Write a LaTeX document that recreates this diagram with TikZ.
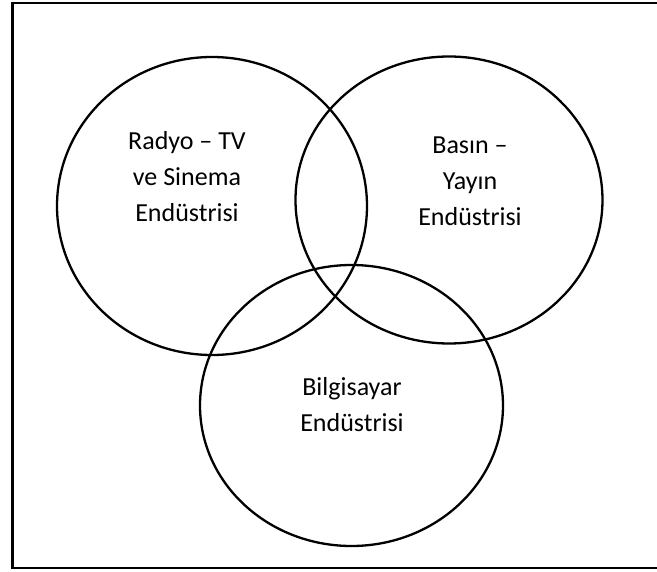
\documentclass[tikz,border=0pt]{standalone}
\usepackage{fontspec}
\setmainfont{Carlito}
\begin{document}
\begin{tikzpicture}[x=1pt,y=-1pt,
    set/.style={line width=2.3pt},
    label/.style={align=center,font=\fontsize{26}{36}\selectfont}]
    \useasboundingbox (0,0) rectangle (657,572);
    \draw[line width=2.5pt] (657,3) -- (12.5,3) -- (12.5,568) -- (657,568);
    \draw[set] (212,206) ellipse [x radius=155, y radius=149];
    \draw[set] (449,200) ellipse [x radius=153.5, y radius=143.5];
    \draw[set] (351.5,405.5) ellipse [x radius=151.5, y radius=140.5];
    \node[label] (radyo) at (187,177) {Radyo -- TV\\ve Sinema\\Endüstrisi};
    \node[label] (basin) at (470,181) {Basın --\\Yayın\\Endüstrisi};
    \node[label] (bilgi) at (352,405) {Bilgisayar\\Endüstrisi};
\end{tikzpicture}
\end{document}
